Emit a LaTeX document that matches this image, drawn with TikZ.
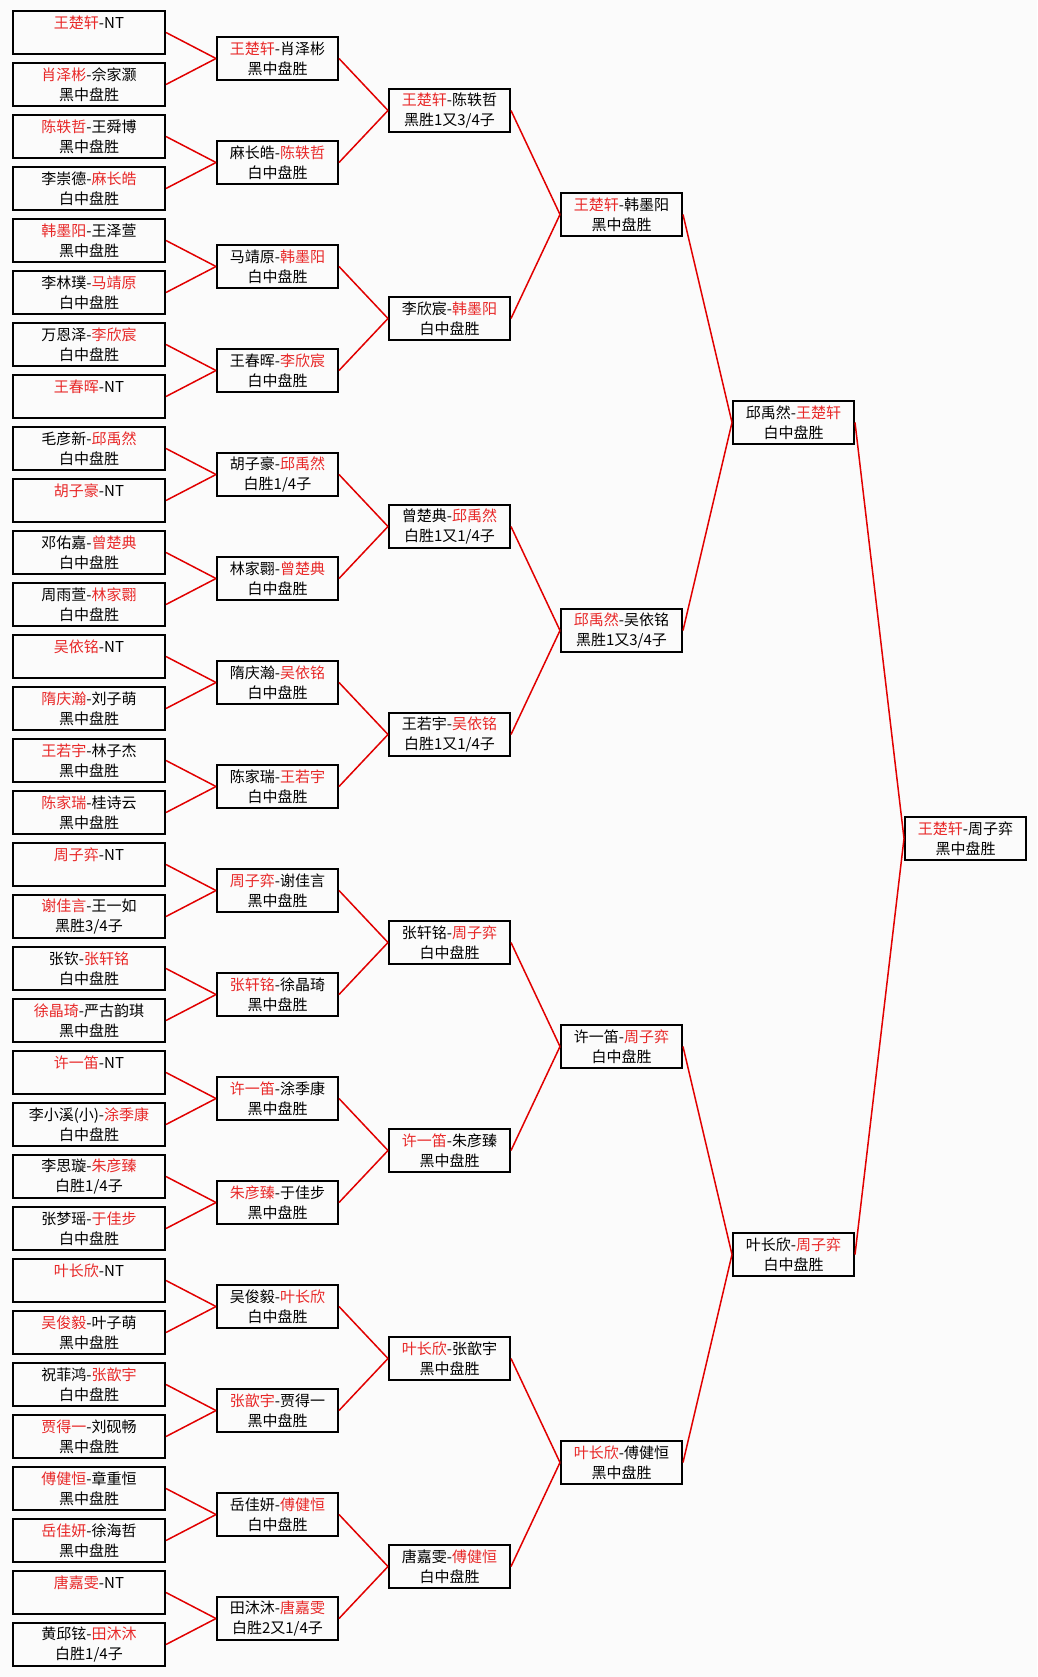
\documentclass[tikz,border=0pt]{standalone}
\usepackage{fontspec}
\setmainfont{Noto Sans CJK SC}
\definecolor{wred}{RGB}{232,40,40}
\definecolor{lred}{RGB}{225,0,0}
\definecolor{bg}{RGB}{251,251,251}
\newcommand\RR[1]{\textcolor{wred}{#1}}
\tikzset{
  box/.style={draw=black, line width=2pt, minimum height=43pt, inner sep=0pt, align=center,
    font=\fontsize{15pt}{20pt}\selectfont},
  wbox/.style={box, minimum width=152pt},
  nbox/.style={box, minimum width=121pt},
  edge/.style={draw=lred, line width=1.5pt}
}
\newcommand\NT{\\\phantom{中}}
\begin{document}
\begin{tikzpicture}[x=1pt,y=-1pt]
\useasboundingbox (0,0) rectangle (1037,1677);
\fill[bg] (0,0) rectangle (1037,1677);
% column 1
\node[wbox] (A0) at (89,32.5) {\RR{王楚轩}-NT\NT};
\node[wbox] (A1) at (89,84.5) {\RR{肖泽彬}-佘家灏\\黑中盘胜};
\node[wbox] (A2) at (89,136.5) {\RR{陈轶哲}-王舜博\\黑中盘胜};
\node[wbox] (A3) at (89,188.5) {李崇德-\RR{麻长皓}\\白中盘胜};
\node[wbox] (A4) at (89,240.5) {\RR{韩墨阳}-王泽萱\\黑中盘胜};
\node[wbox] (A5) at (89,292.5) {李林璞-\RR{马靖原}\\白中盘胜};
\node[wbox] (A6) at (89,344.5) {万恩泽-\RR{李欣宸}\\白中盘胜};
\node[wbox] (A7) at (89,396.5) {\RR{王春晖}-NT\NT};
\node[wbox] (A8) at (89,448.5) {毛彦新-\RR{邱禹然}\\白中盘胜};
\node[wbox] (A9) at (89,500.5) {\RR{胡子豪}-NT\NT};
\node[wbox] (A10) at (89,552.5) {邓佑嘉-\RR{曾楚典}\\白中盘胜};
\node[wbox] (A11) at (89,604.5) {周雨萱-\RR{林家翾}\\白中盘胜};
\node[wbox] (A12) at (89,656.5) {\RR{吴依铭}-NT\NT};
\node[wbox] (A13) at (89,708.5) {\RR{隋庆瀚}-刘子萌\\黑中盘胜};
\node[wbox] (A14) at (89,760.5) {\RR{王若宇}-林子杰\\黑中盘胜};
\node[wbox] (A15) at (89,812.5) {\RR{陈家瑞}-桂诗云\\黑中盘胜};
\node[wbox] (A16) at (89,864.5) {\RR{周子弈}-NT\NT};
\node[wbox] (A17) at (89,916.5) {\RR{谢佳言}-王一如\\黑胜3/4子};
\node[wbox] (A18) at (89,968.5) {张钦-\RR{张轩铭}\\白中盘胜};
\node[wbox] (A19) at (89,1020.5) {\RR{徐晶琦}-严古韵琪\\黑中盘胜};
\node[wbox] (A20) at (89,1072.5) {\RR{许一笛}-NT\NT};
\node[wbox] (A21) at (89,1124.5) {李小溪(小)-\RR{涂季康}\\白中盘胜};
\node[wbox] (A22) at (89,1176.5) {李思璇-\RR{朱彦臻}\\白胜1/4子};
\node[wbox] (A23) at (89,1228.5) {张梦瑶-\RR{于佳步}\\白中盘胜};
\node[wbox] (A24) at (89,1280.5) {\RR{叶长欣}-NT\NT};
\node[wbox] (A25) at (89,1332.5) {\RR{吴俊毅}-叶子萌\\黑中盘胜};
\node[wbox] (A26) at (89,1384.5) {祝菲鸿-\RR{张歆宇}\\白中盘胜};
\node[wbox] (A27) at (89,1436.5) {\RR{贾得一}-刘砚畅\\黑中盘胜};
\node[wbox] (A28) at (89,1488.5) {\RR{傅健恒}-章重恒\\黑中盘胜};
\node[wbox] (A29) at (89,1540.5) {\RR{岳佳妍}-徐海哲\\黑中盘胜};
\node[wbox] (A30) at (89,1592.5) {\RR{唐嘉雯}-NT\NT};
\node[wbox] (A31) at (89,1644.5) {黄邱铉-\RR{田沐沐}\\白胜1/4子};
% column 2
\node[nbox] (B0) at (277.5,58.5) {\RR{王楚轩}-肖泽彬\\黑中盘胜};
\node[nbox] (B1) at (277.5,162.5) {麻长皓-\RR{陈轶哲}\\白中盘胜};
\node[nbox] (B2) at (277.5,266.5) {马靖原-\RR{韩墨阳}\\白中盘胜};
\node[nbox] (B3) at (277.5,370.5) {王春晖-\RR{李欣宸}\\白中盘胜};
\node[nbox] (B4) at (277.5,474.5) {胡子豪-\RR{邱禹然}\\白胜1/4子};
\node[nbox] (B5) at (277.5,578.5) {林家翾-\RR{曾楚典}\\白中盘胜};
\node[nbox] (B6) at (277.5,682.5) {隋庆瀚-\RR{吴依铭}\\白中盘胜};
\node[nbox] (B7) at (277.5,786.5) {陈家瑞-\RR{王若宇}\\白中盘胜};
\node[nbox] (B8) at (277.5,890.5) {\RR{周子弈}-谢佳言\\黑中盘胜};
\node[nbox] (B9) at (277.5,994.5) {\RR{张轩铭}-徐晶琦\\黑中盘胜};
\node[nbox] (B10) at (277.5,1098.5) {\RR{许一笛}-涂季康\\黑中盘胜};
\node[nbox] (B11) at (277.5,1202.5) {\RR{朱彦臻}-于佳步\\黑中盘胜};
\node[nbox] (B12) at (277.5,1306.5) {吴俊毅-\RR{叶长欣}\\白中盘胜};
\node[nbox] (B13) at (277.5,1410.5) {\RR{张歆宇}-贾得一\\黑中盘胜};
\node[nbox] (B14) at (277.5,1514.5) {岳佳妍-\RR{傅健恒}\\白中盘胜};
\node[nbox] (B15) at (277.5,1618.5) {田沐沐-\RR{唐嘉雯}\\白胜2又1/4子};
% column 3
\node[nbox] (C0) at (449.5,110.5) {\RR{王楚轩}-陈轶哲\\黑胜1又3/4子};
\node[nbox] (C1) at (449.5,318.5) {李欣宸-\RR{韩墨阳}\\白中盘胜};
\node[nbox] (C2) at (449.5,526.5) {曾楚典-\RR{邱禹然}\\白胜1又1/4子};
\node[nbox] (C3) at (449.5,734.5) {王若宇-\RR{吴依铭}\\白胜1又1/4子};
\node[nbox] (C4) at (449.5,942.5) {张轩铭-\RR{周子弈}\\白中盘胜};
\node[nbox] (C5) at (449.5,1150.5) {\RR{许一笛}-朱彦臻\\黑中盘胜};
\node[nbox] (C6) at (449.5,1358.5) {\RR{叶长欣}-张歆宇\\黑中盘胜};
\node[nbox] (C7) at (449.5,1566.5) {唐嘉雯-\RR{傅健恒}\\白中盘胜};
% column 4
\node[nbox] (D0) at (621.5,214.5) {\RR{王楚轩}-韩墨阳\\黑中盘胜};
\node[nbox] (D1) at (621.5,630.5) {\RR{邱禹然}-吴依铭\\黑胜1又3/4子};
\node[nbox] (D2) at (621.5,1046.5) {许一笛-\RR{周子弈}\\白中盘胜};
\node[nbox] (D3) at (621.5,1462.5) {\RR{叶长欣}-傅健恒\\黑中盘胜};
% column 5
\node[nbox] (E0) at (793.5,422.5) {邱禹然-\RR{王楚轩}\\白中盘胜};
\node[nbox] (E1) at (793.5,1254.5) {叶长欣-\RR{周子弈}\\白中盘胜};
% column 6
\node[nbox] (F0) at (965.5,838.5) {\RR{王楚轩}-周子弈\\黑中盘胜};
% connectors
\foreach \i in {0,...,15}{
  \pgfmathtruncatemacro\ka{2*\i}\pgfmathtruncatemacro\kb{2*\i+1}
  \draw[edge] (A\ka.east) -- (B\i.west);
  \draw[edge] (A\kb.east) -- (B\i.west);
}
\foreach \i in {0,...,7}{
  \pgfmathtruncatemacro\ka{2*\i}\pgfmathtruncatemacro\kb{2*\i+1}
  \draw[edge] (B\ka.east) -- (C\i.west);
  \draw[edge] (B\kb.east) -- (C\i.west);
}
\foreach \i in {0,...,3}{
  \pgfmathtruncatemacro\ka{2*\i}\pgfmathtruncatemacro\kb{2*\i+1}
  \draw[edge] (C\ka.east) -- (D\i.west);
  \draw[edge] (C\kb.east) -- (D\i.west);
}
\foreach \i in {0,1}{
  \pgfmathtruncatemacro\ka{2*\i}\pgfmathtruncatemacro\kb{2*\i+1}
  \draw[edge] (D\ka.east) -- (E\i.west);
  \draw[edge] (D\kb.east) -- (E\i.west);
}
\draw[edge] (E0.east) -- (F0.west);
\draw[edge] (E1.east) -- (F0.west);
\end{tikzpicture}
\end{document}
